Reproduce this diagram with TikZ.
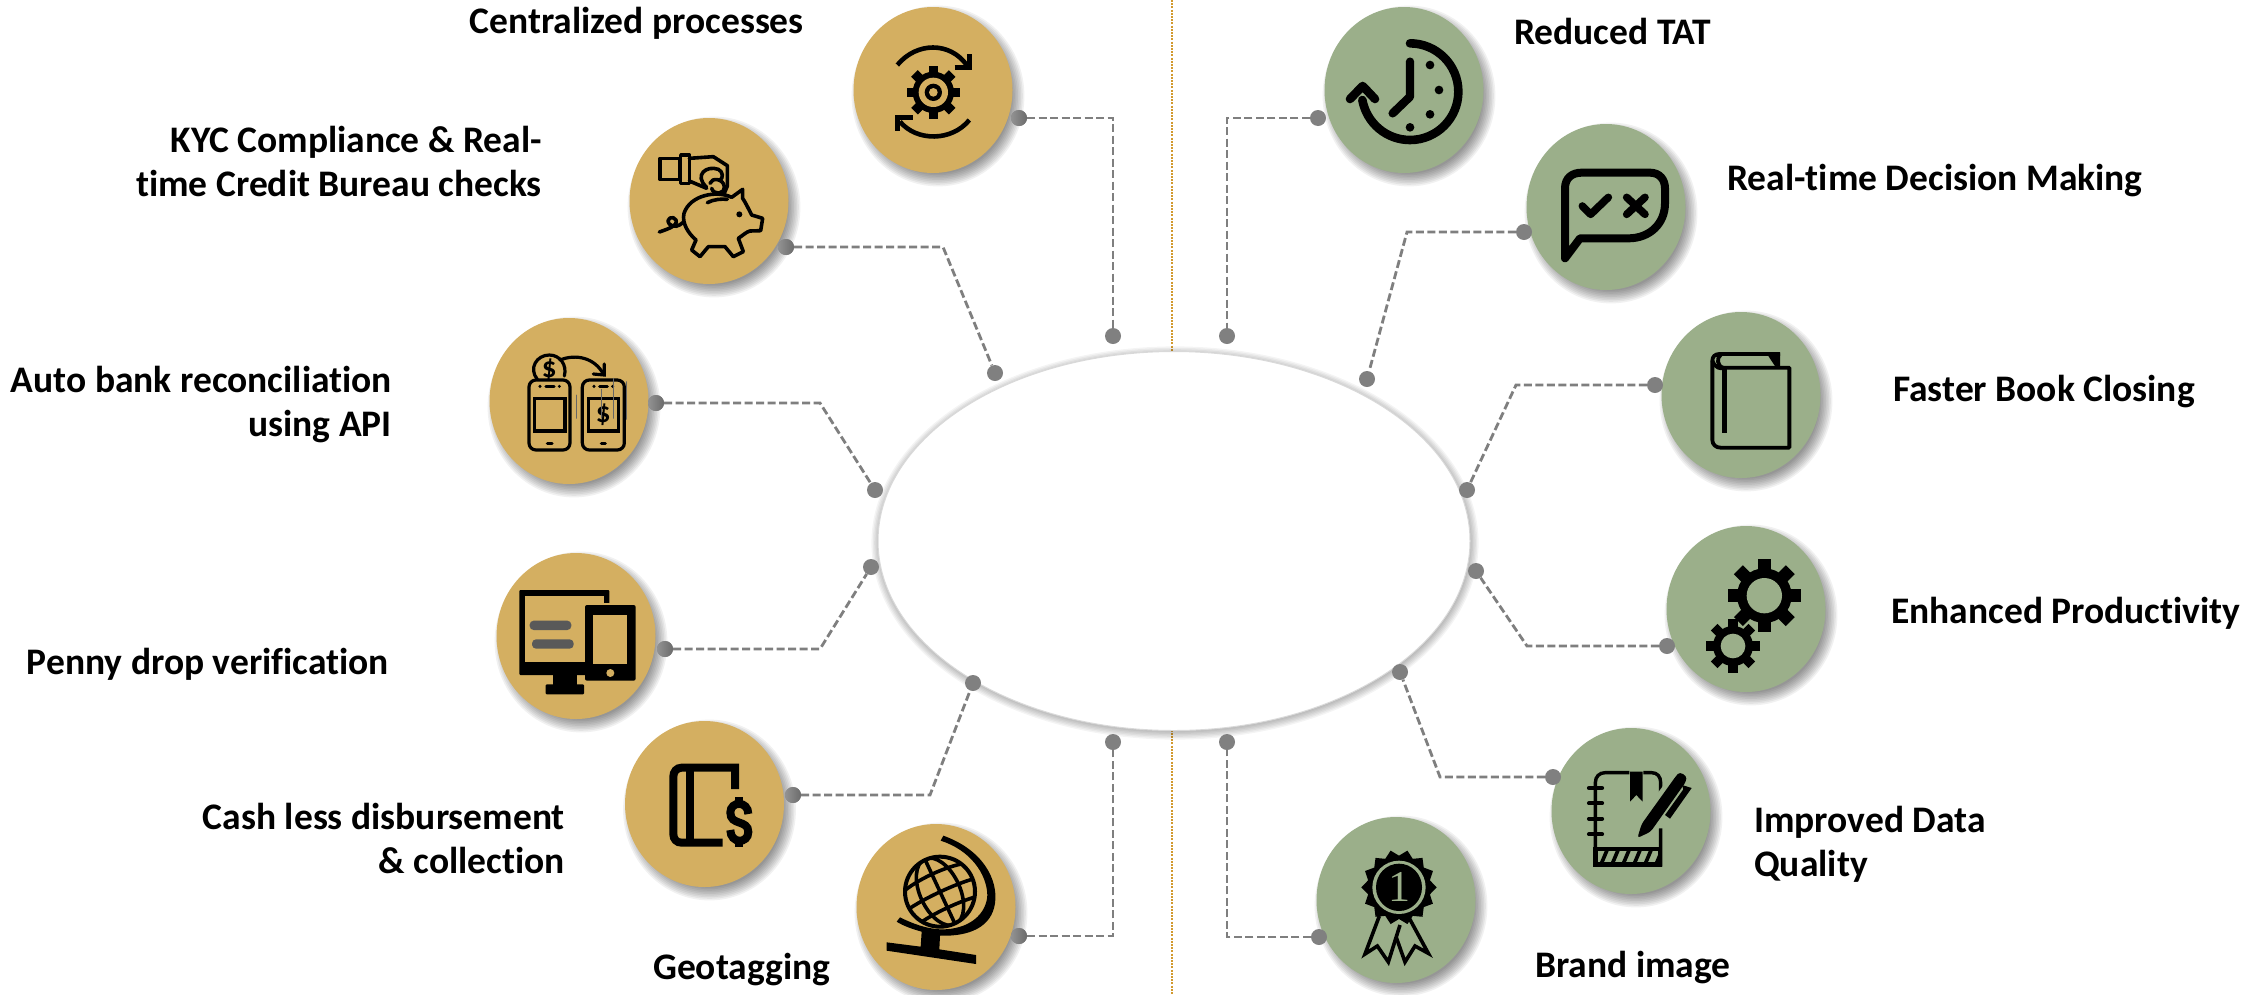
\documentclass[tikz,border=0pt]{standalone}
\usepackage{fontspec}
\setmainfont{Carlito}[Ligatures=NoCommon]
\newfontfamily\serifone{Liberation Serif}
\usetikzlibrary{shapes.geometric}
\definecolor{gold}{HTML}{D4AF61}
\definecolor{sage}{HTML}{9BAF8A}
\definecolor{dotgray}{HTML}{808080}
\definecolor{linegray}{HTML}{7F7F7F}
\definecolor{orangeline}{HTML}{D29A30}
\tikzset{
  discnode/.style={ellipse,inner sep=0pt,minimum width=159pt,minimum height=166pt,fill=#1},
  dotnode/.style={circle,inner sep=0pt,minimum size=16pt,fill=dotgray},
  conn/.style={draw=linegray,line width=2.8pt,dash pattern=on 8pt off 3.5pt},
  lab/.style={inner sep=0pt,font=\fontsize{37.5}{44}\selectfont\bfseries},
  z/.style={shift={#1},scale=0.33333},
}
\newcommand\discat[4]{%
  \foreach \k in {1,...,9}{\fill[black,opacity=.055] ({#2+5},{#3+6}) ellipse [x radius={88-1.6*\k},y radius={92-1.6*\k}];}
  \node[discnode=#4] (#1) at (#2,#3) {};
}
\newcommand\gearicon[7]{%
  \fill (#1,#2) circle (#4);
  \foreach \a in {0,45,...,315}{\fill[shift={(#1,#2)},rotate=\a] (0,{-#6/2}) rectangle (#3,{#6/2});}
  \fill[#7] (#1,#2) circle (#5);
}
\begin{document}
\begin{tikzpicture}[x=1pt,y=-1pt]
\useasboundingbox (0,0) rectangle (2256,994);
\fill[white] (0,0) rectangle (2256,994);
% divider
\draw[orangeline,line width=1.2pt,dash pattern=on 2pt off 1.2pt] (1172,0) -- (1172,994);
% centre ellipse
\foreach \k in {1,...,7}{\fill[black,opacity=.045] (1175,543) ellipse [x radius={305-1.4*\k},y radius={198-1.4*\k}];}
\node[ellipse,fill=white,draw=black!15,line width=1pt,inner sep=0pt,minimum width=592pt,minimum height=379pt] (hub) at (1174,541) {};
% discs
\discat{a1}{933}{90}{gold}
\discat{a2}{709}{201}{gold}
\discat{a3}{569}{401}{gold}
\discat{a4}{576}{636}{gold}
\discat{a5}{704.5}{804}{gold}
\discat{a6}{936}{907}{gold}
\discat{b1}{1404}{90}{sage}
\discat{b2}{1606}{207}{sage}
\discat{b3}{1741}{395}{sage}
\discat{b4}{1746}{609}{sage}
\discat{b5}{1631}{811}{sage}
\discat{b6}{1396}{900}{sage}
% dots
\node[dotnode,left color=gray!85,right color=black!58] (d1a) at (1019,118) {};
\node[dotnode,left color=gray!85,right color=black!58] (d2a) at (786,247) {};
\node[dotnode,left color=gray!85,right color=black!58] (d3a) at (656,403) {};
\node[dotnode,left color=gray!85,right color=black!58] (d4a) at (665,649) {};
\node[dotnode,left color=gray!85,right color=black!58] (d5a) at (793,795) {};
\node[dotnode,left color=gray!85,right color=black!58] (d6a) at (1019,936) {};
\node[dotnode] (d1c) at (1113,336) {};
\node[dotnode] (d2c) at (995,373) {};
\node[dotnode] (d3c) at (875,490) {};
\node[dotnode] (d4c) at (871,567) {};
\node[dotnode] (d5c) at (973,683) {};
\node[dotnode] (d6c) at (1113,742) {};
\node[dotnode] (e1a) at (1318,118) {};
\node[dotnode] (e2a) at (1524,232) {};
\node[dotnode] (e3a) at (1655,385) {};
\node[dotnode] (e4a) at (1667,646) {};
\node[dotnode] (e5a) at (1553,777) {};
\node[dotnode] (e6a) at (1319,937) {};
\node[dotnode] (e1c) at (1227,336) {};
\node[dotnode] (e2c) at (1367,379) {};
\node[dotnode] (e3c) at (1467,490) {};
\node[dotnode] (e4c) at (1476,571) {};
\node[dotnode] (e5c) at (1400,672) {};
\node[dotnode] (e6c) at (1227,742) {};
% bends
\coordinate (d1b) at (1113,118);
\coordinate (d2b) at (943,247);
\coordinate (d3b) at (820,403);
\coordinate (d4b) at (820,649);
\coordinate (d5b) at (930,795);
\coordinate (d6b) at (1113,936);
\coordinate (e1b) at (1227,118);
\coordinate (e2b) at (1407,232);
\coordinate (e3b) at (1516,385);
\coordinate (e4b) at (1527,646);
\coordinate (e5b) at (1440,777);
\coordinate (e6b) at (1227,937);
\foreach \n in {d1,d2,d3,d4,d5,d6,e1,e2,e3,e4,e5,e6}{\draw[conn] (\n a) -- (\n b) -- (\n c);}
% labels
\node[lab,anchor=east] (t1) at (804,23) {Centralized processes};
\node[lab,anchor=east,align=right] (t2) at (542,161) {KYC Compliance \& Real-\\time Credit Bureau checks};
\node[lab,anchor=east,align=right] (t3) at (392,405) {Auto bank reconciliation\\using API};
\node[lab,anchor=east] (t4) at (389,664) {Penny drop verification};
\node[lab,anchor=east,align=right] (t5) at (565,838) {Cash less disbursement\\\& collection};
\node[lab,anchor=west] (t6) at (653,970) {Geotagging};
\node[lab,anchor=west] (u1) at (1514,31) {Reduced TAT};
\node[lab,anchor=west] (u2) at (1727,181) {Real-time Decision Making};
\node[lab,anchor=west] (u3) at (1893,392) {Faster Book Closing};
\node[lab,anchor=west] (u4) at (1891,613) {Enhanced Productivity};
\node[lab,anchor=west,align=left] (u5) at (1754,844) {Improved Data\\Quality};
\node[lab,anchor=west] (u6) at (1535,968) {Brand image};
% ---- icon 1: gear with arrows
\begin{scope}[z={(820,0)}]
\gearicon{340}{277}{80}{62}{44}{28}{gold}
\fill (340,277) circle (26); \fill[gold] (340,277) circle (13);
\draw[line width=4.6pt] (232,195) .. controls (290,125) and (390,125) .. (440,195);
\draw[line width=4.6pt] (404,203) -- (448,203) -- (448,162);
\draw[line width=4.6pt] (448,360) .. controls (395,425) and (290,425) .. (240,365);
\draw[line width=4.6pt] (278,352) -- (232,352) -- (232,393);
\end{scope}
% ---- icon 2: piggy bank
\begin{scope}[z={(610,100)},line width=3.6pt,line join=round,line cap=round]
\draw (150,175) rectangle (210,238);
\draw (212,165) rectangle (238,250);
\draw (238,175) -- (310,170) -- (352,197) -- (352,258) -- (342,282);
\draw (238,243) -- (290,265);
\draw (290,262) .. controls (250,225) and (290,195) .. (325,208) .. controls (340,215) and (340,235) .. (330,240);
\draw (300,250) .. controls (305,232) and (340,235) .. (343,260) .. controls (343,285) and (310,285) .. (305,265);
\draw (365,292) .. controls (320,270) and (240,285) .. (222,340) .. controls (215,370) and (235,400) .. (258,420) -- (245,450) -- (270,470) -- (295,440) -- (345,440) -- (370,470) -- (400,455) -- (385,415) .. controls (400,405) and (410,395) .. (420,393) -- (452,392) -- (458,355) -- (425,345) .. controls (415,325) and (405,305) .. (398,295) -- (398,268) -- (365,292);
\fill (388,343) circle (9);
\draw (292,308) .. controls (310,298) and (335,296) .. (352,298);
\draw (148,396) .. controls (170,388) and (205,378) .. (198,360) .. controls (190,345) and (165,355) .. (178,372) .. controls (190,385) and (208,378) .. (218,368);
\end{scope}
% ---- icon 3: phones
\begin{scope}[z={(470,300)},line width=3.2pt,line cap=round]
\draw[rounded corners=7pt] (177,240) rectangle (300,450);
\draw[rounded corners=7pt] (337,240) rectangle (463,450);
\draw (193,295) rectangle (285,393);
\draw (355,295) rectangle (445,393);
\draw (228,259) -- (252,259); \draw (232,430) -- (246,430);
\draw (389,259) -- (412,259); \draw (394,430) -- (406,430);
\fill (210,259) circle (5); \fill (268,259) circle (5);
\fill (372,259) circle (5); \fill (428,259) circle (5);
\draw (202,238) .. controls (175,205) and (200,165) .. (238,165) .. controls (270,165) and (292,195) .. (283,228);
\node[inner sep=0pt,font=\fontsize{29}{29}\selectfont\bfseries] (c3a) at (238,210) {\$};
\node[inner sep=0pt,font=\fontsize{29}{29}\selectfont\bfseries] (c3b) at (400,345) {\$};
\draw (270,180) .. controls (320,160) and (375,175) .. (400,222);
\draw (370,222) -- (403,225) -- (403,192);
\draw[black!60,line width=.8pt] (318,285) -- (318,355) (393,268) -- (393,355) (431,235) -- (431,355) (469,245) -- (469,358);
\end{scope}
% ---- icon 4: devices
\begin{scope}[z={(480,540)}]
\fill[rounded corners=1pt] (118,150) rectangle (388,405);
\fill[gold] (135,168) rectangle (372,365);
\fill[gold] (372,188) rectangle (400,365);
\fill (220,400) rectangle (292,440);
\fill[rounded corners=1pt] (197,433) rectangle (312,463);
\fill[black!65,rounded corners=4pt] (149,242) rectangle (274,270);
\fill[black!65,rounded corners=4pt] (156,298) rectangle (281,326);
\fill[rounded corners=2pt] (315,195) rectangle (467,422);
\fill[gold] (340,225) rectangle (442,373);
\fill[gold] (391,399) circle (12);
\end{scope}
% ---- icon 5: book and dollar
\begin{scope}[z={(610,710)},line width=8pt]
\draw (375,237) -- (375,173) -- (215,173) .. controls (200,173) and (190,185) .. (190,200) -- (190,372) .. controls (190,388) and (200,398) .. (215,398) -- (338,398);
\draw (239,173) -- (239,398);
\draw[line width=8pt] (415,312) .. controls (415,272) and (361,272) .. (361,308) .. controls (361,348) and (415,328) .. (415,366) .. controls (415,402) and (361,402) .. (361,360);
\draw (388,262) -- (388,285) (388,388) -- (388,410);
\end{scope}
% ---- icon 6: globe
\begin{scope}[z={(850,820)}]
\begin{scope}
\clip (270,215) circle (105);
\begin{scope}[shift={(270,215)},rotate=25,line width=3.6pt]
\draw (0,0) ellipse [x radius=60,y radius=108];
\draw (-105,-45) .. controls (-50,-62) and (50,-62) .. (105,-45);
\draw (-110,8) .. controls (-50,-2) and (50,-2) .. (110,8);
\draw (-105,62) .. controls (-50,50) and (50,50) .. (105,62);
\draw (0,-108) -- (0,108);
\end{scope}
\end{scope}
\draw[line width=4pt] (270,215) circle (105);
\fill (272,62) -- (280,47) .. controls (400,90) and (445,180) .. (435,250) .. controls (425,320) and (360,350) .. (270,347) -- (268,388) -- (378,405) -- (378,432) -- (110,392) -- (110,367) -- (212,380) -- (215,335) .. controls (190,328) and (160,318) .. (140,305) -- (150,292) .. controls (190,312) and (230,326) .. (270,328) .. controls (360,330) and (410,280) .. (412,225) .. controls (410,160) and (360,90) .. (272,62) -- cycle;
\end{scope}
% ---- icon 7: clock
\begin{scope}[z={(1320,0)},line cap=round,line join=round]
\draw[line width=8.6pt] (270,130) .. controls (350,130) and (415,195) .. (415,275) .. controls (415,355) and (350,420) .. (270,420) .. controls (200,420) and (140,370) .. (127,300);
\draw[line width=8.6pt] (90,297) -- (128,258) -- (165,297);
\draw[line width=8.4pt] (270,185) -- (270,290) -- (218,340);
\foreach \p in {(330,195),(357,270),(330,343),(270,382)}{\fill \p circle (13);}
\end{scope}
% ---- icon 8: speech bubble
\begin{scope}[z={(1520,120)},line join=round,line cap=round]
\draw[line width=8pt] (135,415) -- (135,205) .. controls (135,175) and (155,158) .. (185,158) -- (390,158) .. controls (420,158) and (435,180) .. (435,205) -- (435,250) .. controls (435,310) and (390,355) .. (325,355) -- (180,355) -- cycle;
\draw[line width=7.6pt] (187,258) -- (212,283) -- (265,232);
\draw[line width=7.6pt] (320,232) -- (375,283) (375,232) -- (320,283);
\end{scope}
% ---- icon 9: closed book
\begin{scope}[z={(1660,300)},line width=3.8pt,line join=round]
\draw (360,162) -- (178,162) .. controls (165,162) and (157,170) .. (157,182) -- (157,420) .. controls (157,434) and (168,443) .. (182,443) -- (388,443) -- (388,203) -- (190,203) .. controls (170,200) and (170,170) .. (182,165);
\draw[line width=4.4pt] (193,203) -- (193,398);
\fill (325,168) -- (360,160) -- (360,203) -- (348,203) -- cycle;
\draw (157,182) .. controls (165,205) and (185,208) .. (190,203);
\end{scope}
% ---- icon 10: gears
\begin{scope}[z={(1660,520)}]
\gearicon{313}{227}{110}{82}{53}{38}{sage}
\gearicon{219}{378}{80}{60}{37}{28}{sage}
\end{scope}
% ---- icon 11: notebook and pen
\begin{scope}[z={(1550,720)}]
\draw[line width=3.4pt] (238,158) -- (165,158) .. controls (148,158) and (136,170) .. (136,188) -- (136,435) -- (332,435) -- (332,325);
\draw[line width=3.4pt] (280,158) -- (305,158) .. controls (322,158) and (332,170) .. (332,188) -- (332,240);
\fill (130,380) rectangle (336,440);
\begin{scope}
\clip (143,393) rectangle (325,426);
\fill[sage] (143,393) rectangle (325,426);
\foreach \x in {150,183,...,360}{\fill (\x,426) -- ({\x+12},426) -- ({\x+26},393) -- ({\x+14},393) -- cycle;}
\end{scope}
\fill (240,155) -- (278,155) -- (278,245) -- (259,225) -- (240,245) -- cycle;
\draw[line width=4.2pt,line cap=round] (117,204) -- (156,204) (117,250) -- (156,250) (117,296) -- (156,296) (117,343) -- (156,343);
\fill[sage] (255,360) -- (262,300) -- (375,150) -- (430,190) -- (310,345) -- cycle;
\fill[rounded corners=3pt] (262,354) -- (275,312) -- (378,168) .. controls (390,155) and (410,165) .. (408,185) -- (302,335) -- cycle;
\fill (396,195) -- (425,204) -- (360,296) -- (345,285) -- (400,208) -- cycle;
\end{scope}
% ---- icon 12: rosette
\begin{scope}[z={(1320,810)}]
\fill[line join=round] plot[samples=29,domain=0:28,variable=\k] ({237+(mod(round(\k),2)<0.5?113:95)*cos(\k*360/28)},{232+(mod(round(\k),2)<0.5?113:95)*sin(\k*360/28)}) -- cycle;
\fill[sage] (237,232) ellipse [x radius=80,y radius=80];
\fill (237,232) ellipse [x radius=69,y radius=71];
\node[inner sep=0pt,text=sage,font=\serifone\fontsize{44}{44}\selectfont] (c12) at (237,232) {1};
\draw[line width=3.6pt,line join=miter] (178,318) -- (135,432) -- (172,408) -- (205,456) -- (240,345);
\draw[line width=3.6pt,line join=miter] (268,325) -- (325,430) -- (285,408) -- (255,456) -- (228,380);
\end{scope}
\end{tikzpicture}
\end{document}
